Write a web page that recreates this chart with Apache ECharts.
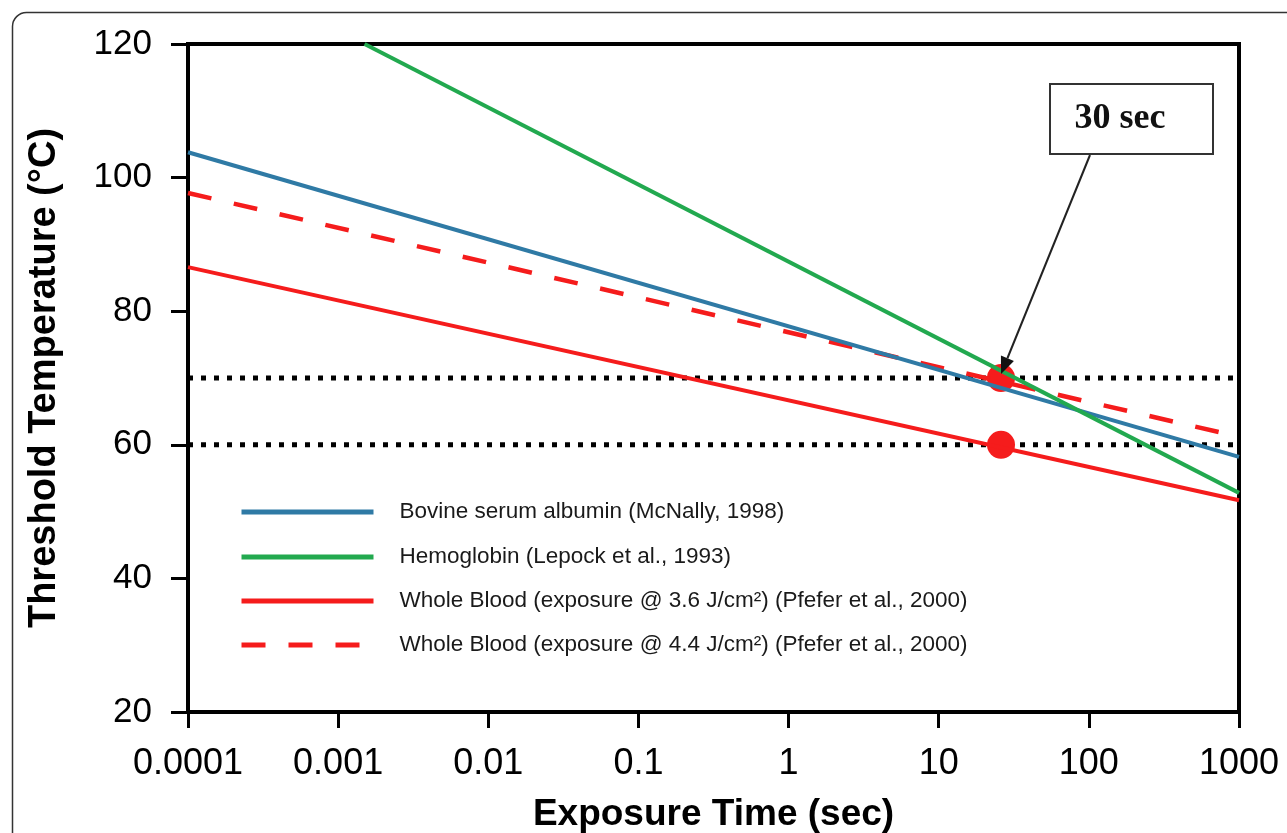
<!DOCTYPE html>
<html>
<head>
<meta charset="utf-8">
<script src="https://cdn.jsdelivr.net/npm/echarts@6/dist/echarts.min.js"></script>
<style>
html,body{margin:0;padding:0;background:#fff;}
#chart{width:1287px;height:833px;}
</style>
</head>
<body>
<div id="chart"></div>
<script>
// ---- data ----
const xTickLabels = ['0.0001', '0.001', '0.01', '0.1', '1', '10', '100', '1000'];
const yTicks = [20, 40, 60, 80, 100, 120];
const seriesNames = [
  'Bovine serum albumin (McNally, 1998)',
  'Hemoglobin (Lepock et al., 1993)',
  'Whole Blood (exposure @ 3.6 J/cm²) (Pfefer et al., 2000)',
  'Whole Blood (exposure @ 4.4 J/cm²) (Pfefer et al., 2000)'
];
const bsaTimes = [0.0001, 1000];
const bsaTemps = [103.8, 58.2];
const hemoTimes = [0.0015, 1000];
const hemoTemps = [120, 52.8];
const blood36Times = [0.0001, 1000];
const blood36Temps = [86.6, 51.7];
const blood44Times = [0.0001, 1000];
const blood44Temps = [97.7, 61.2];
const thresholdTimes = [0.0001, 1000];
const thresholdTemps = [70, 60];
const markerTime = 26;
const markerTemps = [70, 60];
const annotationText = '30 sec';

const colors = { bsa: '#2f7aa5', hemo: '#22a94f', red: '#f51c1c' };
const FONT = '"Liberation Sans", Arial, sans-serif';

function pairs(xs, ys) { return xs.map((x, i) => [x, ys[i]]); }

const chart = echarts.init(document.getElementById('chart'), null, { renderer: 'canvas' });

const series = [];
thresholdTemps.forEach((t, i) => {
  series.push({
    name: 'threshold' + i, type: 'line', symbol: 'none', z: 1,
    data: pairs(thresholdTimes, [t, t]),
    lineStyle: { color: '#000', width: 5, type: [5, 8] },
    silent: true
  });
});
series.push({
  name: 'markers', type: 'scatter', z: 2, symbolSize: 28,
  data: markerTemps.map(t => [markerTime, t]),
  itemStyle: { color: '#f51c1c', opacity: 1 }
});
series.push({ name: seriesNames[3], type: 'line', symbol: 'none', z: 3,
  data: pairs(blood44Times, blood44Temps),
  lineStyle: { color: colors.red, width: 4.5, type: [24, 23] }, itemStyle: { color: colors.red } });
series.push({ name: seriesNames[2], type: 'line', symbol: 'none', z: 3,
  data: pairs(blood36Times, blood36Temps),
  lineStyle: { color: colors.red, width: 4 }, itemStyle: { color: colors.red } });
series.push({ name: seriesNames[0], type: 'line', symbol: 'none', z: 4,
  data: pairs(bsaTimes, bsaTemps),
  lineStyle: { color: colors.bsa, width: 4 }, itemStyle: { color: colors.bsa } });
series.push({ name: seriesNames[1], type: 'line', symbol: 'none', z: 4,
  data: pairs(hemoTimes, hemoTemps),
  lineStyle: { color: colors.hemo, width: 4 }, itemStyle: { color: colors.hemo } });

const legendCenters = [512, 557, 601, 645];
const legends = seriesNames.map((n, i) => ({
  data: [n], left: 239, top: legendCenters[i] - 12, orient: 'vertical', padding: 0,
  itemWidth: 132, itemHeight: 24, selectedMode: false,
  lineStyle: { width: 5 },
  itemStyle: { opacity: 0 },
  textStyle: { fontFamily: FONT, fontSize: 22.5, color: '#1a1a1a', padding: [0, 0, 0, 21], lineHeight: 24 }
}));

chart.setOption({
  animation: false,
  backgroundColor: '#fff',
  grid: { left: 188, right: 48, top: 44, bottom: 121, containLabel: false, outerBoundsMode: 'none',
    show: true, borderColor: '#000', borderWidth: 4, backgroundColor: 'transparent' },
  legend: legends,
  xAxis: {
    type: 'log', logBase: 10, min: 0.0001, max: 1000,
    name: 'Exposure Time (sec)', nameLocation: 'middle', nameGap: 84,
    nameTextStyle: { fontFamily: FONT, fontWeight: 'bold', fontSize: 37, color: '#000' },
    axisLine: { lineStyle: { color: '#000', width: 4 } },
    axisTick: { show: true, inside: false, length: 16, lineStyle: { color: '#000', width: 3 } },
    minorTick: { show: false },
    splitLine: { show: false },
    axisLabel: {
      margin: 34, color: '#000', fontSize: 36, fontFamily: FONT,
      formatter: v => xTickLabels[Math.round(Math.log10(v)) + 4]
    }
  },
  yAxis: {
    type: 'value', min: 20, max: 120, interval: 20,
    name: 'Threshold Temperature (°C)', nameLocation: 'middle', nameGap: 124, nameRotate: 90,
    nameTextStyle: { fontFamily: FONT, fontWeight: 'bold', fontSize: 38, color: '#000' },
    axisLine: { show: true, lineStyle: { color: '#000', width: 4 } },
    axisTick: { show: true, inside: false, length: 17, lineStyle: { color: '#000', width: 3 } },
    splitLine: { show: false },
    axisLabel: { margin: 36, color: '#000', fontSize: 35, fontFamily: FONT }
  },
  series: series
});

// annotation box and arrow, arrow tip placed at the marker through the chart scales
const tip = chart.convertToPixel({ gridIndex: 0 }, [markerTime, markerTemps[0]]);
const start = [1090, 155];
const tipY = tip[1] - 4;
const dx = tip[0] - start[0], dy = tipY - start[1];
const len = Math.sqrt(dx * dx + dy * dy);
const ux = dx / len, uy = dy / len;
const headLen = 17, headW = 7;
const bx = tip[0] - ux * headLen, by = tipY - uy * headLen;
chart.setOption({
  graphic: [
    { type: 'rect', left: 10, top: 10, shape: { x: 0, y: 0, width: 1300, height: 840, r: 14 },
      style: { fill: 'none', stroke: '#333', lineWidth: 1.5 }, silent: true, z: 100 },
    { type: 'rect', shape: { x: 1050, y: 84, width: 163, height: 70 },
      style: { fill: '#fff', stroke: '#333', lineWidth: 2 }, z: 100 },
    { type: 'text', x: 1120, y: 119, style: { text: annotationText, font: 'bold 36px "Liberation Serif", "Times New Roman", serif',
      fill: '#111', align: 'center', verticalAlign: 'middle' }, z: 101 },
    { type: 'line', shape: { x1: start[0], y1: start[1], x2: bx, y2: by },
      style: { stroke: '#222', lineWidth: 2 }, z: 100 },
    { type: 'polygon', shape: { points: [[tip[0], tipY], [bx - uy * headW, by + ux * headW], [bx + uy * headW, by - ux * headW]] },
      style: { fill: '#111' }, z: 101 }
  ]
});
</script>
</body>
</html>
